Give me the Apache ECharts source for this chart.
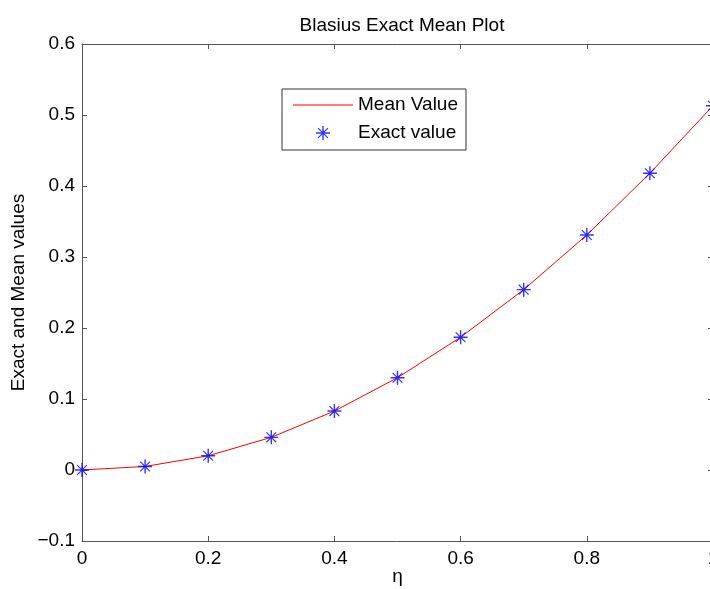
<!DOCTYPE html>
<html>
<head>
<meta charset="utf-8">
<script src="https://cdn.jsdelivr.net/npm/echarts@6/dist/echarts.min.js"></script>
<style>html,body{margin:0;padding:0;background:#fff}#c{width:710px;height:589px}</style>
</head>
<body>
<div id="c"></div>
<script>
var eta = [0, 0.1, 0.2, 0.3, 0.4, 0.5, 0.6, 0.7, 0.8, 0.9, 1.0];
var meanValues = [0, 0.005, 0.020, 0.046, 0.083, 0.130, 0.187, 0.254, 0.331, 0.418, 0.513];
var exactValues = [0, 0.005, 0.020, 0.046, 0.083, 0.130, 0.187, 0.254, 0.331, 0.418, 0.513];
var xTicks = [0, 0.2, 0.4, 0.6, 0.8, 1];
var yTicks = [-0.1, 0, 0.1, 0.2, 0.3, 0.4, 0.5, 0.6];

var FONT = 'Liberation Sans, Arial, sans-serif';
var AX = '#555';
var star = 'path://M45 0L55 0L55 100L45 100Z M0 45L100 45L100 55L0 55Z M12 18L18 12L88 82L82 88Z M82 12L88 18L18 88L12 82Z';

function pairs(xs, ys) { return xs.map(function (x, i) { return [x, ys[i]]; }); }
function fmt(v) { return v < 0 ? '\u22120.' + String(Math.round(-v * 10)) : (v === 0 ? '0' : (v === 1 ? '1' : String(+v.toFixed(1)))); }

var chart = echarts.init(document.getElementById('c'), null, { renderer: 'canvas' });
var axisCommon = {
  axisLine: { show: true, onZero: false, lineStyle: { color: AX, width: 1 } },
  axisTick: { show: true, inside: true, length: 5, lineStyle: { color: AX } },
  splitLine: { show: false }
};
chart.setOption({
  animation: false,
  title: {
    text: 'Blasius Exact Mean Plot', left: 397, top: 11, textAlign: 'center',
    textStyle: { fontFamily: FONT, fontSize: 19, fontWeight: 'normal', color: '#000' }
  },
  grid: { left: 82, top: 44, width: 631, height: 497, containLabel: false, outerBoundsMode: 'none' },
  legend: {
    orient: 'vertical', left: 282, top: 89,
    padding: [6, 8, 7, 11], itemGap: 8, itemWidth: 60, itemHeight: 14,
    borderColor: '#333', borderWidth: 1, backgroundColor: '#fff',
    textStyle: { fontFamily: FONT, fontSize: 19, color: '#000', lineHeight: 20 },
    data: [{ name: 'Mean Value', icon: 'path://M0 49L100 49L100 51L0 51Z' }, { name: 'Exact value' }]
  },
  xAxis: [
    Object.assign({
      type: 'value', min: 0, max: 1, interval: 0.2, position: 'bottom',
      name: '\u03b7', nameLocation: 'middle', nameGap: 26, nameMoveOverlap: false,
      nameTextStyle: { fontFamily: FONT, fontSize: 19, color: '#000' },
      axisLabel: { fontFamily: FONT, fontSize: 19, color: '#000', margin: 8, formatter: fmt }
    }, axisCommon),
    Object.assign({
      type: 'value', min: 0, max: 1, interval: 0.2, position: 'top',
      axisLabel: { show: false }
    }, axisCommon)
  ],
  yAxis: [
    Object.assign({
      type: 'value', min: -0.1, max: 0.6, interval: 0.1, position: 'left',
      name: 'Exact and Mean values', nameLocation: 'middle', nameGap: 54, nameMoveOverlap: false,
      nameTextStyle: { fontFamily: FONT, fontSize: 19, color: '#000' },
      axisLabel: { fontFamily: FONT, fontSize: 19, color: '#000', margin: 7, formatter: fmt }
    }, axisCommon),
    Object.assign({
      type: 'value', min: -0.1, max: 0.6, interval: 0.1, position: 'right',
      axisLabel: { show: false }
    }, axisCommon)
  ],
  series: [
    {
      name: 'Mean Value', type: 'line', data: pairs(eta, meanValues),
      showSymbol: false, symbol: 'none',
      lineStyle: { color: '#ff0000', width: 1 }, itemStyle: { color: '#ff0000' }, z: 2
    },
    {
      name: 'Exact value', type: 'scatter', data: pairs(eta, exactValues),
      symbol: star, symbolSize: 14, symbolKeepAspect: true,
      itemStyle: { color: '#0000ff' }, z: 3
    }
  ]
});
</script>
</body>
</html>
